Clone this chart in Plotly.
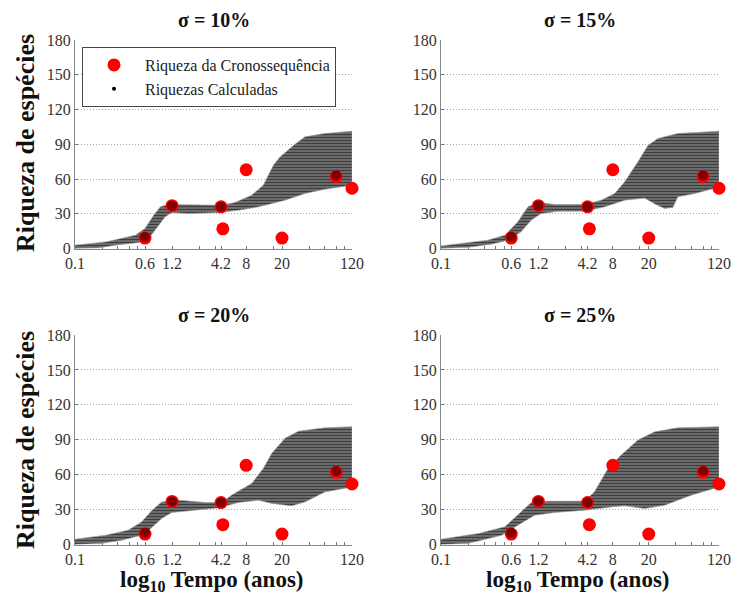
import plotly.graph_objects as go

SERIF = "Liberation Serif"

# ---- data ----
t_obs = [0.6, 1.2, 4.2, 4.4, 8, 20, 80, 120]
s_obs = [9, 37, 36, 17, 68, 9, 62, 52]

t_calc = [0.6, 1.2, 4.2, 80]
s_calc = [10, 37, 36, 63]

# sigma = 10%
t10_up = [0.1, 0.22, 0.47, 0.6, 0.75, 0.89, 1.1, 2.36, 4.3, 6.0, 9.2, 12.4, 16.1, 19, 26.8, 36, 60, 120]
s10_up = [2.9, 5.7, 11.5, 17.3, 28.8, 36, 38, 37.4, 37.4, 39.7, 46, 54.7, 72, 79, 89, 96.4, 99.3, 101.3]
t10_lo = [0.1, 0.18, 0.28, 0.51, 0.66, 0.81, 1.0, 1.19, 1.83, 3.94, 6.56, 11, 21.6, 36, 60, 120]
s10_lo = [0, 0.5, 2.9, 5.2, 8.6, 17.3, 27.3, 31, 30.2, 31, 33, 36, 41.7, 47.5, 51.2, 54.7]

# sigma = 15%
t15_up = [0.1, 0.33, 0.51, 0.71, 0.92, 1.19, 1.82, 3.9, 5.97, 8.4, 10.8, 15.2, 19.6, 25.3, 42, 120]
s15_up = [2.2, 7.2, 11.5, 23, 36, 39.7, 38, 38, 41.7, 47.5, 57.5, 74.8, 89, 95, 99.3, 101.3]
t15_lo = [0.1, 0.2, 0.36, 0.55, 0.77, 1.0, 1.29, 1.98, 3.9, 6.5, 10.8, 18, 24, 30, 37, 42, 65, 120]
s15_lo = [0, 1, 3.7, 7.2, 14.4, 24.5, 30.2, 32.2, 32.2, 36, 41.7, 43.5, 38, 34.6, 35.5, 44.6, 47.5, 53]

# sigma = 20%
t20_up = [0.1, 0.22, 0.39, 0.55, 0.72, 0.92, 1.42, 2.8, 4.29, 5.5, 9.2, 12.4, 15.4, 21.6, 30.5, 60, 120]
s20_up = [4.6, 8, 12.3, 19.4, 29.5, 36.6, 38.1, 36.1, 36.1, 42.4, 52.4, 65.4, 78.3, 91.2, 97.4, 100.3, 101.2]
t20_lo = [0.1, 0.2, 0.33, 0.51, 0.66, 0.92, 1.19, 1.99, 3.94, 6.56, 11, 15.4, 25.6, 36, 60, 120]
s20_lo = [0, 1, 3.7, 7.4, 12.3, 22.4, 27.5, 29.5, 31.5, 36.1, 38.1, 35.3, 33.2, 36.6, 45.2, 49.5]

# sigma = 25%
t25_up = [0.1, 0.26, 0.51, 0.71, 1.0, 1.53, 3.9, 5.0, 7.1, 9.9, 15.2, 23.3, 42, 120]
s25_up = [4.6, 9.4, 15.2, 25.2, 36.1, 37.2, 37.2, 45.2, 65.4, 76.8, 89.7, 96.8, 100.3, 101.2]
t25_lo = [0.1, 0.2, 0.28, 0.47, 0.71, 1.09, 1.82, 3.9, 7.7, 10.8, 18, 30, 59, 120]
s25_lo = [0, 1, 3.7, 8, 16.6, 25.2, 27.5, 29.5, 32.3, 33.2, 31, 33.8, 42.4, 49.5]

titles = ["σ = 10%", "σ = 15%", "σ = 20%", "σ = 25%"]

x_tickvals = [0.1, 0.6, 1.2, 4.2, 8, 20, 120]
x_ticktext = ["0.1", "0.6", "1.2", "4.2", "8", "20", "120"]
x_minor_ticks = [0.2, 0.3, 0.4, 0.5, 2.4, 3.6, 16, 40, 60, 80, 100]
y_tickvals = [0, 30, 60, 90, 120, 150, 180]

bands = [(t10_up, s10_up, t10_lo, s10_lo),
         (t15_up, s15_up, t15_lo, s15_lo),
         (t20_up, s20_up, t20_lo, s20_lo),
         (t25_up, s25_up, t25_lo, s25_lo)]

# ---- layout geometry (window pixels) ----
W, H = 734, 601


def px(x):
    return x / W


def py(y):
    return 1 - y / H


boxes = [(75, 352, 40, 248.5), (441, 719, 40, 248.5),
         (75, 352, 335, 544.5), (441, 719, 335, 544.5)]

fig = go.Figure()

for i, (tu, su, tl, sl) in enumerate(bands):
    n = "" if i == 0 else str(i + 1)
    xa, ya = "x" + n, "y" + n
    fig.add_trace(go.Scatter(
        x=list(tu) + list(tl)[::-1], y=list(su) + list(sl)[::-1],
        xaxis=xa, yaxis=ya, mode="lines", fill="toself",
        fillcolor="#555555",
        fillpattern=dict(shape="-", fgcolor="#000000", bgcolor="#7a7a7a",
                         size=3, solidity=0.5),
        line=dict(color="#9a9a9a", width=0.6),
        showlegend=False, hoverinfo="skip"))
    fig.add_trace(go.Scatter(
        x=t_obs, y=s_obs, xaxis=xa, yaxis=ya, mode="markers",
        marker=dict(color="#ff0000", size=13),
        name="Riqueza da Cronossequência", showlegend=(i == 0),
        cliponaxis=False))
    fig.add_trace(go.Scatter(
        x=t_calc, y=s_calc, xaxis=xa, yaxis=ya, mode="markers",
        marker=dict(color="rgba(40,0,0,0.6)", size=10),
        showlegend=False, cliponaxis=False, hoverinfo="skip"))
    if i == 0:
        fig.add_trace(go.Scatter(
            x=[None], y=[None], xaxis=xa, yaxis=ya, mode="markers",
            marker=dict(color="black", size=4),
            name="Riquezas Calculadas", showlegend=True))

    x0, x1, y0, y1 = boxes[i]
    fig.layout["xaxis" + n] = dict(
        domain=[px(x0), px(x1)], anchor=ya, type="log", automargin=False,
        range=[-1, 2.0792], tickmode="array", tickvals=x_tickvals,
        ticktext=x_ticktext, ticks="inside", ticklen=3, tickcolor="#777",
        minor=dict(tickmode="array", tickvals=x_minor_ticks, ticks="inside",
                   ticklen=3, tickcolor="#777", showgrid=False),
        showline=True, linecolor="#888", linewidth=1, showgrid=False,
        zeroline=False, tickfont=dict(family=SERIF, size=16, color="#333"))
    fig.layout["yaxis" + n] = dict(
        domain=[py(y1), py(y0)], anchor=xa, range=[0, 180],
        automargin=False,
        tickmode="array", tickvals=y_tickvals, ticks="inside", ticklen=3,
        tickcolor="#777", showline=True, linecolor="#888", linewidth=1,
        showgrid=True, gridcolor="#a8a8a8", griddash="1px,2px", gridwidth=1,
        zeroline=False, tickfont=dict(family=SERIF, size=16, color="#333"))

    fig.add_annotation(text="<b>" + titles[i] + "</b>", x=px((x0 + x1) / 2),
                       y=py(y0 - 20), xref="paper", yref="paper", showarrow=False,
                       xanchor="center", yanchor="middle",
                       font=dict(family=SERIF, size=20, color="#111"))

for yc in [143, 440]:
    fig.add_annotation(text="<b>Riqueza de espécies</b>", x=px(25), y=py(yc),
                       xref="paper", yref="paper", showarrow=False, textangle=-90,
                       xanchor="center", yanchor="middle",
                       font=dict(family=SERIF, size=26, color="#111"))
for xc in [212, 578]:
    fig.add_annotation(text="<b>log<sub>10</sub> Tempo (anos)</b>", x=px(xc), y=py(581),
                       xref="paper", yref="paper", showarrow=False,
                       xanchor="center", yanchor="middle",
                       font=dict(family=SERIF, size=23, color="#111"))

fig.update_layout(
    width=W, height=H, margin=dict(l=0, r=0, t=0, b=0, pad=0, autoexpand=False),
    paper_bgcolor="white", plot_bgcolor="white",
    legend=dict(x=px(82), y=py(47), xanchor="left", yanchor="top",
                bgcolor="white", bordercolor="#444", borderwidth=1,
                itemwidth=52, font=dict(family=SERIF, size=16, color="#222"),
                tracegroupgap=0),
    font=dict(family=SERIF),
    showlegend=True,
)

fig.write_html("out.html",
               config={"displayModeBar": False},
               post_script="document.body.style.margin='0px';"
                           "document.body.style.overflow='hidden';")
